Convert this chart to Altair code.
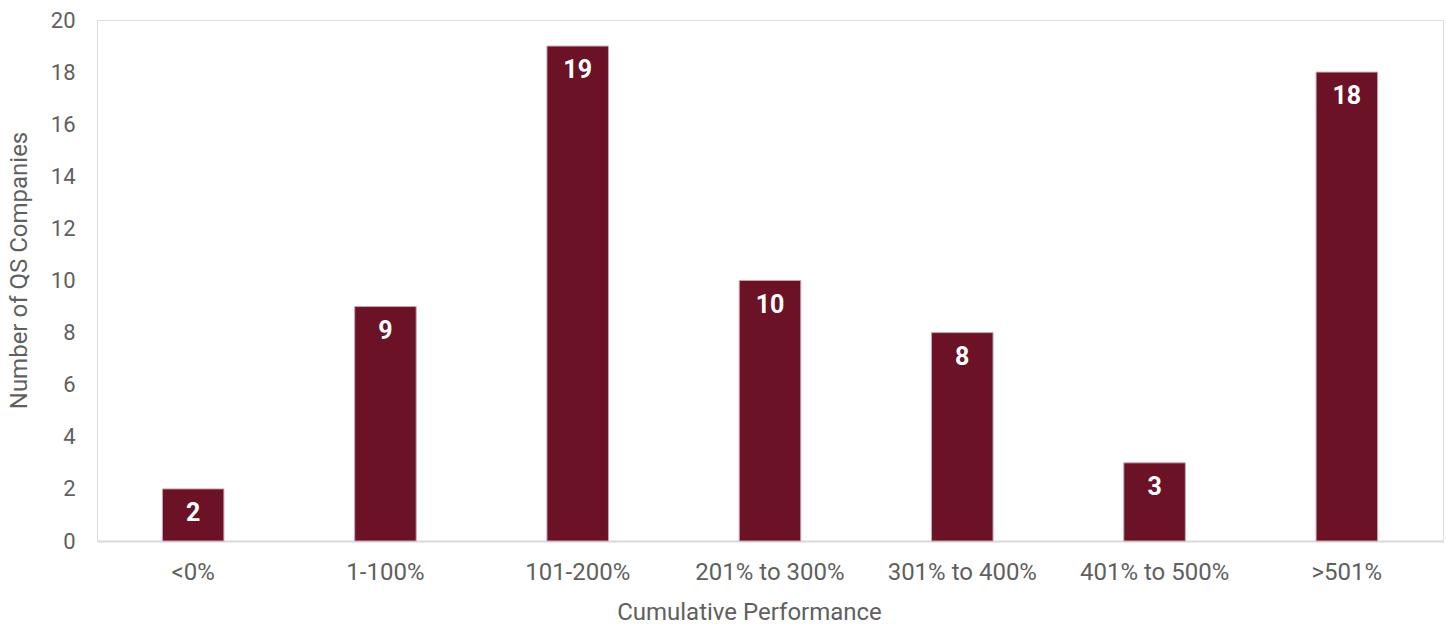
import altair as alt
import pandas as pd

categories = ["<0%", "1-100%", "101-200%", "201% to 300%", "301% to 400%", "401% to 500%", ">501%"]
counts = [2, 9, 19, 10, 8, 3, 18]

df = pd.DataFrame({"cat": categories, "n": counts})

FONT = "Roboto"
GRAY = "#5f5f5f"

x = alt.X("cat:N", sort=categories,
          scale=alt.Scale(paddingInner=0.68, paddingOuter=0.34),
          axis=alt.Axis(title="Cumulative Performance", labelAngle=0, labelFontSize=24,
                        labelColor=GRAY, titleFontSize=24, titleColor=GRAY, titleFontWeight="normal",
                        labelFont=FONT, titleFont=FONT, ticks=False, labelPadding=19,
                        titlePadding=16, titleX=652, domainColor="#d9d9d9", domainWidth=2))
y = alt.Y("n:Q", scale=alt.Scale(domain=[0, 20], nice=False),
          axis=alt.Axis(title="Number of QS Companies", values=list(range(0, 21, 2)),
                        labelFontSize=22, labelColor=GRAY, titleFontSize=24, titleColor=GRAY,
                        titleFontWeight="normal", labelFont=FONT, titleFont=FONT,
                        ticks=False, domain=False, grid=False, labelPadding=22, titlePadding=19,
                        titleY=250))

bars = alt.Chart(df).mark_bar(color="#6b1226", stroke="#c9a6ae", strokeWidth=1).encode(x=x, y=y)
text = alt.Chart(df).mark_text(color="white", font=FONT, fontWeight="bold", fontSize=25,
                               baseline="middle", dy=24).encode(x=x, y=y, text="n:Q")

chart = (bars + text).properties(
    width=1346, height=521,
    autosize="none",
    padding={"left": 97, "top": 20, "right": 3, "bottom": 83},
).configure_view(fill="#f0f0f0", strokeWidth=0).configure(background="white")

chart.save("out.html", embed_options={"renderer": "svg", "actions": False})
